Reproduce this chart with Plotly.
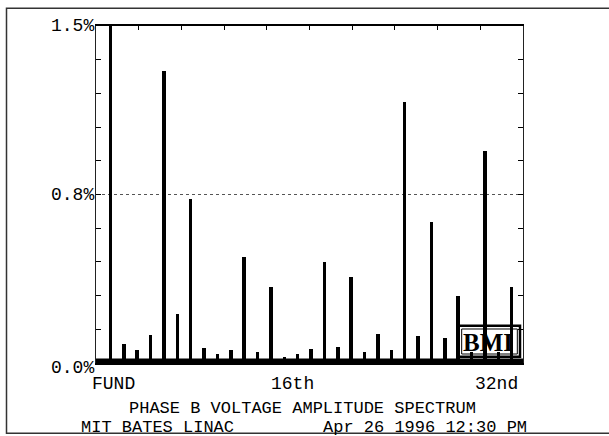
import plotly.graph_objects as go

# Harmonic numbers and amplitudes (% of fundamental); fundamental is off-scale
harmonics = list(range(1, 32))
amplitude = [100.0, 0.088, 0.062, 0.13, 1.354, 0.229, 0.76, 0.07, 0.043, 0.062,
             0.49, 0.053, 0.35, 0.03, 0.043, 0.065, 0.468, 0.074, 0.397, 0.05,
             0.134, 0.062, 1.207, 0.127, 0.655, 0.115, 0.31, 0.05, 0.983, 0.05,
             0.35]

y_tick_vals = [0, 0.78, 1.56]
y_tick_text = ["0.0%", "0.8%", "1.5%"]
x_labels = ["FUND", "16th", "32nd"]

FONT = "Liberation Mono, Courier New, monospace"

fig = go.Figure()
fig.add_trace(go.Bar(x=harmonics, y=amplitude, width=0.26,
                     marker=dict(color="black", line=dict(width=0)),
                     showlegend=False, hoverinfo="x+y"))

fig.update_layout(
    width=609, height=436,
    margin=dict(l=96, r=86, t=26, b=73),
    paper_bgcolor="white", plot_bgcolor="white",
    bargap=0,
    font=dict(family=FONT, size=18, color="black"),
)
fig.update_xaxes(range=[-0.08, 31.85], showticklabels=False,
                 tickmode="linear", tick0=-0.08, dtick=3.193,
                 ticks="inside", ticklen=4, tickwidth=1, tickcolor="black",
                 showgrid=False, zeroline=False,
                 showline=True, linewidth=2, linecolor="black", mirror="ticks")
fig.update_yaxes(range=[0, 1.56], tickvals=y_tick_vals, showticklabels=False,
                 ticks="inside", ticklen=5, tickwidth=1, tickcolor="black",
                 minor=dict(tick0=0, dtick=0.156, ticks="inside", ticklen=5,
                            tickwidth=1, tickcolor="black", showgrid=False),
                 showgrid=True, gridcolor="#555", gridwidth=1, griddash="dot",
                 zeroline=False,
                 showline=True, linewidth=1.3, linecolor="#222", mirror="ticks")

shapes = [
    # outer frame
    dict(type="rect", xref="paper", yref="paper", x0=-0.2096, x1=1.25,
         y0=-0.2086, y1=1.0525, line=dict(color="#333", width=1.5)),
    # thick noise floor band
    dict(type="rect", xref="paper", yref="paper", x0=0, x1=1,
         y0=0, y1=0.013, fillcolor="black", line=dict(width=0)),
    # BMI logo boxes
    dict(type="rect", xref="paper", yref="paper", x0=0.8485, x1=0.993,
         y0=0.0187, y1=0.1107, line=dict(color="black", width=2.5)),
    dict(type="rect", xref="paper", yref="paper", x0=0.8564, x1=0.9867,
         y0=0.0267, y1=0.1009, line=dict(color="black", width=1)),
]
fig.update_layout(shapes=shapes)

ann = []
# y labels
for v, t, yy in zip(y_tick_vals, y_tick_text, [-0.015, 0.5, 1.0]):
    ann.append(dict(text=t, xref="paper", yref="paper", x=0.0, y=yy,
                    xanchor="right", yanchor="middle", showarrow=False))
# x labels
for t, xx in zip(x_labels, [0.041, 0.461, 0.937]):
    ann.append(dict(text=t, xref="paper", yref="paper", x=xx, y=-0.062,
                    xanchor="center", yanchor="middle", showarrow=False))
small = dict(family=FONT, size=17, color="black")
ann.append(dict(text="PHASE B VOLTAGE AMPLITUDE SPECTRUM", xref="paper", yref="paper",
                x=0.484, y=(363 - 408) / 337, xanchor="center", yanchor="middle",
                showarrow=False, borderpad=0, borderwidth=0, font=small))
ann.append(dict(text="MIT BATES LINAC", xref="paper", yref="paper",
                x=(80.5 - 96) / 427, y=(363 - 427.5) / 337, xanchor="left",
                yanchor="middle", showarrow=False, borderpad=0, borderwidth=0,
                font=small))
ann.append(dict(text="Apr 26 1996 12:30 PM", xref="paper", yref="paper",
                x=(527 - 96) / 427, y=(363 - 427.5) / 337, xanchor="right",
                yanchor="middle", showarrow=False, borderpad=0, borderwidth=0,
                font=small))
ann.append(dict(text="<b>BMI</b>", xref="paper", yref="paper", x=0.919, y=0.0623,
                xanchor="center", yanchor="middle", showarrow=False,
                font=dict(family="Liberation Serif, Times New Roman, serif", size=25,
                          color="black")))
fig.update_layout(annotations=ann)

fig.write_html("out.html", config={"displayModeBar": False},
               post_script="document.body.style.margin='0';document.body.style.overflow='hidden';")
